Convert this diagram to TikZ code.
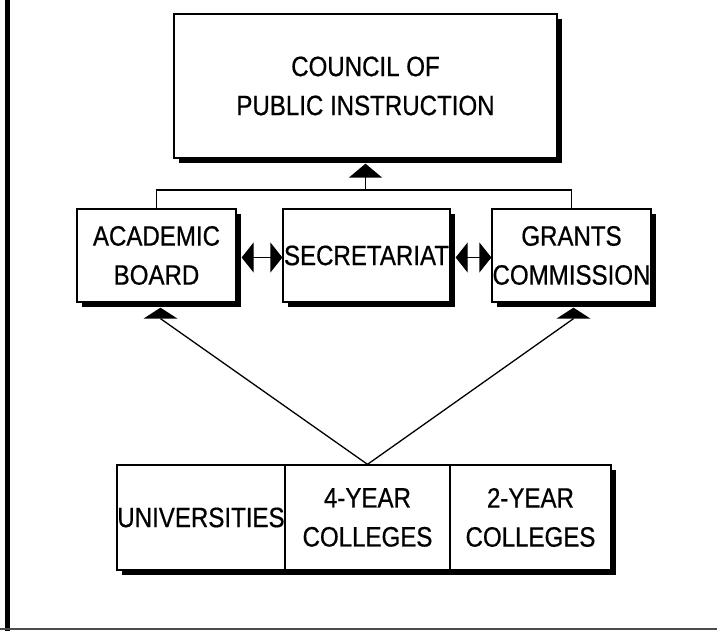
\documentclass[tikz,border=0pt]{standalone}
\usepackage{fontspec}
\setmainfont[FakeStretch=0.86,FakeBold=0.6]{Liberation Sans}
\usetikzlibrary{arrows.meta,shadows,calc}

\begin{document}
\begin{tikzpicture}[x=1pt,y=1pt,
    box/.style={draw=black, line width=1.3pt, fill=white, align=center,
      inner sep=0pt, font=\fontsize{28}{39}\selectfont},
    shadowed/.style={drop shadow={shadow xshift=5pt, shadow yshift=-5pt,
      fill=black, opacity=1}},
    link/.style={line width=1.3pt},
    twoway/.style={link, {Triangle[width=30pt,length=12pt]}-{Triangle[width=30pt,length=12pt]}},
    up/.style={link, -{Triangle[width=33pt,length=14pt]}},
  ]
  \useasboundingbox (0,0) rectangle (717,631);

  % page frame: heavy left rule, light bottom rule
  \draw[line width=5pt] (7,0) -- (7,631);
  \draw[line width=2pt, black!70] (0,1.5) -- (717,1.5);

  % top level
  \node[box, shadowed, minimum width=383pt, minimum height=144pt]
    (council) at (365.5,545) {COUNCIL OF\\PUBLIC INSTRUCTION};

  % middle level
  \node[box, shadowed, minimum width=159pt, minimum height=93pt]
    (acad) at (156.5,375.5) {ACADEMIC\\BOARD};
  \node[box, shadowed, minimum width=167pt, minimum height=93pt]
    (sec) at (366.5,375.5) {SECRETARIAT};
  \node[box, shadowed, minimum width=159pt, minimum height=93pt]
    (grants) at (571.5,375.5) {GRANTS\\COMMISSION};

  % bottom level: three joined cells with one common shadow
  \fill[black] (122,56) rectangle (616,161);
  \node[box, minimum width=168pt, minimum height=105pt]
    (univ) at (201,113.5) {UNIVERSITIES};
  \node[box, minimum width=165pt, minimum height=105pt]
    (four) at (367.5,113.5) {4-YEAR\\COLLEGES};
  \node[box, minimum width=161pt, minimum height=105pt]
    (two) at (530.5,113.5) {2-YEAR\\COLLEGES};

  % connectors between the middle boxes and the council
  \coordinate (hub) at (council.south |- 0,441);
  \draw[link] (acad.north) |- (hub) -| (grants.north);
  \draw[up] (hub) -- ($(council.south)+(0,-5)$);

  \draw[twoway] ($(acad.east)+(5,-2)$) -- ($(sec.west)+(0,-2)$);
  \draw[twoway] ($(sec.east)+(5,-2)$) -- ($(grants.west)+(0,-2)$);

  % connectors from the colleges up to the boards
  \coordinate (acadtip) at ($(acad.south)+(4,-5)$);
  \coordinate (grantstip) at ($(grants.south)+(2,-5)$);
  \draw[link] (four.north) -- ($(acadtip)+(0,-11)$);
  \draw[link] (four.north) -- ($(grantstip)+(0,-11)$);
  \fill (acadtip) -- ++(-17,-11) -- ++(34,0) -- cycle;
  \fill (grantstip) -- ++(-17,-11) -- ++(34,0) -- cycle;
\end{tikzpicture}
\end{document}
